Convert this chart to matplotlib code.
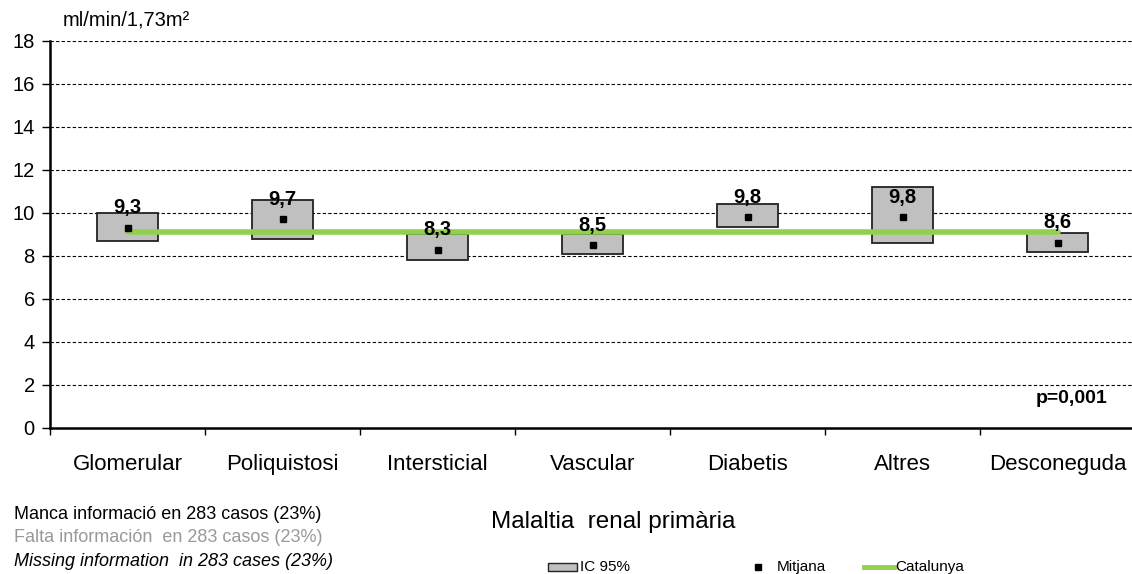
import matplotlib
matplotlib.use('Agg')
import matplotlib.pyplot as plt
import numpy as np

plt.rcParams['font.family'] = ['Liberation Sans', 'DejaVu Sans']

# dades
categories = ['Glomerular', 'Poliquistosi', 'Intersticial', 'Vascular',
              'Diabetis', 'Altres', 'Desconeguda']
mitjana = [9.3, 9.7, 8.3, 8.5, 9.8, 9.8, 8.6]
ic_inf = [8.7, 8.8, 7.8, 8.1, 9.35, 8.6, 8.2]
ic_sup = [10.0, 10.6, 9.0, 9.0, 10.4, 11.2, 9.05]
catalunya = 9.1
etiquetes = ['9,3', '9,7', '8,3', '8,5', '9,8', '9,8', '8,6']

fig = plt.figure(figsize=(11.32, 5.74), dpi=100)
ax = fig.add_axes([0.0442, 0.2544, 0.9585, 0.6742])

x = np.arange(len(categories))
alt = np.array(ic_sup) - np.array(ic_inf)

# grid
for v in range(2, 19, 2):
    ax.axhline(v, color='black', lw=0.8, ls=(0, (3, 2)), zorder=1)

ax.bar(x, alt, bottom=ic_inf, width=0.39, color='#C0C0C0',
       edgecolor='#222222', linewidth=1.3, zorder=2)
ax.plot([x[0], x[-1]], [catalunya, catalunya], color='#92D050', lw=4,
        solid_capstyle='round', zorder=3)
ax.plot(x, mitjana, 's', color='black', markersize=4, zorder=4)

for i in range(len(x)):
    ax.annotate(etiquetes[i], (x[i], mitjana[i]), xytext=(0, 10.5),
                textcoords='offset points', ha='center', va='baseline',
                fontsize=14.5, fontweight='bold', zorder=5)

ax.set_xlim(-0.5, 6.5)
ax.set_ylim(0, 18)
ax.set_yticks(range(0, 19, 2))
ax.tick_params(axis='y', labelsize=14.5, length=6, width=1, direction='out', pad=5)
ax.set_xticks(x)
ax.set_xticklabels(categories, fontsize=16)
ax.set_xticks(np.arange(-0.5, 7, 1), minor=True)
ax.tick_params(axis='x', which='major', length=0, pad=19)
ax.tick_params(axis='x', which='minor', length=5, width=1, direction='out')

for s in ['top', 'right']:
    ax.spines[s].set_visible(False)
ax.spines['left'].set_linewidth(1.8)
ax.spines['bottom'].set_linewidth(1.8)

ax.text(0.975, 0.075, 'p=0,001', transform=ax.transAxes, ha='right',
        va='center', fontsize=14, fontweight='bold')

fig.text(0.055, 0.966, 'ml/min/1,73m²', fontsize=14.5, va='center')

fig.text(0.012, 0.103, 'Manca informació en 283 casos (23%)', fontsize=13,
         va='center', color='black')
fig.text(0.012, 0.063, 'Falta información  en 283 casos (23%)', fontsize=13,
         va='center', color='#999999')
fig.text(0.012, 0.021, 'Missing information  in 283 cases (23%)', fontsize=13,
         va='center', style='italic')

fig.text(0.434, 0.09, 'Malaltia  renal primària', fontsize=17.5, va='center')

# llegenda
ly = 0.012
fig.add_artist(plt.Rectangle((0.484, ly - 0.007), 0.026, 0.014,
               transform=fig.transFigure, facecolor='#C0C0C0',
               edgecolor='#222222', linewidth=1.0))
fig.text(0.512, ly, 'IC 95%', fontsize=11, va='center')
fig.add_artist(plt.Line2D([0.670], [ly], marker='s', color='black',
               markersize=4, transform=fig.transFigure))
fig.text(0.686, ly, 'Mitjana', fontsize=11, va='center')
fig.add_artist(plt.Line2D([0.763, 0.790], [ly, ly], color='#92D050', lw=3.5,
               transform=fig.transFigure))
fig.text(0.791, ly, 'Catalunya', fontsize=11, va='center')

fig.savefig('out.png', dpi=100)
